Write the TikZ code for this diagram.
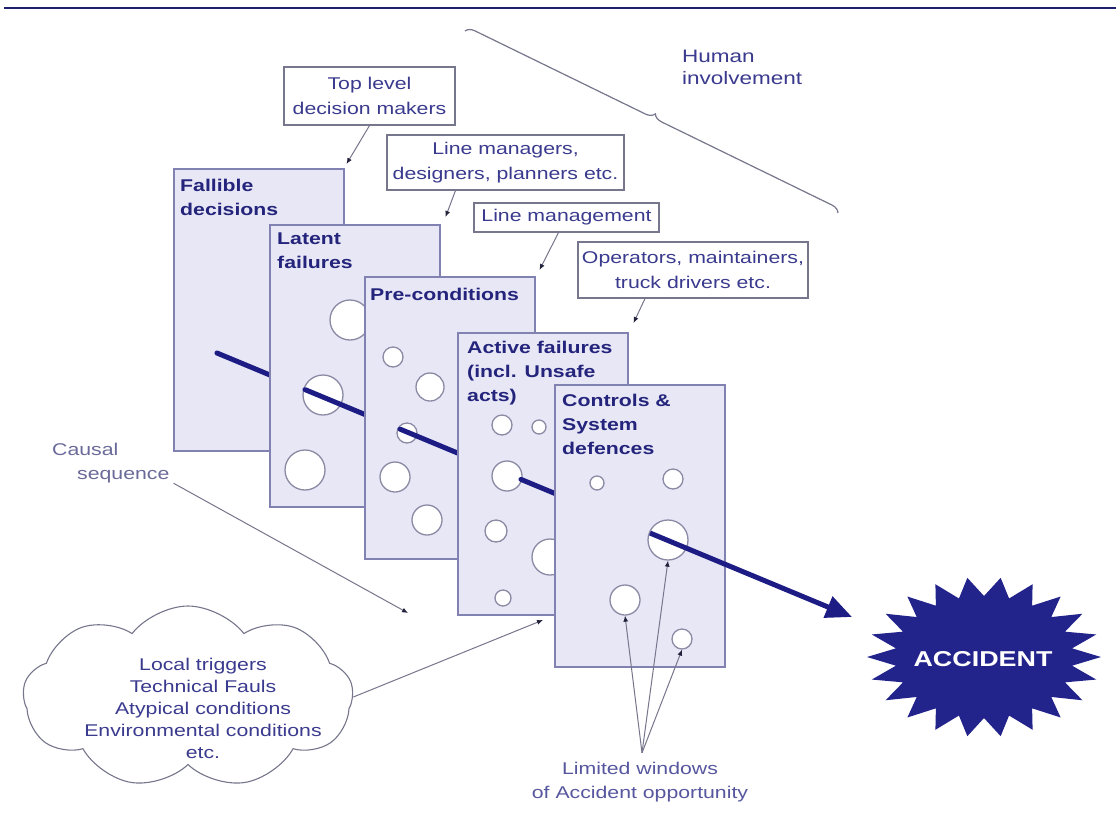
\documentclass[tikz,border=0pt]{standalone}
\usepackage{fontspec}
\setmainfont{Liberation Sans}[FakeStretch=1.25]
\usetikzlibrary{arrows.meta,shapes.symbols,decorations.pathreplacing,calc}

\definecolor{rulenavy}{HTML}{1F1F6E}
\definecolor{arrownavy}{HTML}{1C1C84}
\definecolor{titlenavy}{HTML}{24247C}
\definecolor{labelblue}{HTML}{3A3A8E}
\definecolor{softblue}{HTML}{6A6A9A}
\definecolor{panelfill}{HTML}{E7E7F6}
\definecolor{paneledge}{HTML}{8282B2}
\definecolor{holeedge}{HTML}{8A8AA4}
\definecolor{leadergrey}{HTML}{76768C}
\definecolor{tipdark}{HTML}{22223C}
\definecolor{burst}{HTML}{23238C}

\begin{document}
\begin{tikzpicture}[x=1pt,y=-1pt,
  panel/.style={draw=paneledge, fill=panelfill, line width=1.5pt, minimum width=170pt, minimum height=282pt, anchor=north west, inner sep=0pt},
  hole/.style={circle, draw=holeedge, fill=white, line width=1.3pt, inner sep=0pt, minimum size=#1},
  paneltitle/.style={anchor=north west, inner sep=0pt, align=left, text=titlenavy, font=\fontsize{17}{24}\selectfont\bfseries},
  calloutbox/.style={draw=leadergrey, fill=white, line width=1.1pt, inner sep=0pt, align=center, text=labelblue, font=\fontsize{17}{25}\selectfont},
  leader/.style={draw=leadergrey, line width=1pt, -{Latex[length=6pt,width=5pt,color=tipdark]}},
  causal/.style={arrownavy, line width=5pt, line cap=round},
]
\useasboundingbox (0,0) rectangle (1116,823);
\fill[white] (0,0) rectangle (1116,823);

% header rule
\draw[rulenavy, line width=2.5pt] (4,8) -- (1116,8);

% trajectory of the accident arrow
\coordinate (a0) at (217,353);
\coordinate (a1) at (852,617);

% slice 1
\node[panel] (p1) at (173,168) {};
\node[paneltitle] (t1) at (180,179) {Fallible\\decisions};
\draw[causal] (a0) -- ($(a0)!0.131!(a1)$);

% slice 2
\node[panel] (p2) at (269,224) {};
\node[paneltitle] (t2) at (277,233) {Latent\\failures};
\node[hole=40pt] (h21) at (350,320) {};
\node[hole=40pt] (h22) at (323,395) {};
\node[hole=40pt] (h23) at (305,470) {};
\draw[causal] ($(a0)!0.1386!(a1)$) -- ($(a0)!0.2567!(a1)$);

% slice 3
\node[panel] (p3) at (364,276) {};
\node[paneltitle] (t3) at (370,288) {Pre-conditions};
\node[hole=20pt] (h31) at (393,357) {};
\node[hole=28pt] (h32) at (430,387) {};
\node[hole=20pt] (h33) at (407,433) {};
\node[hole=30pt] (h34) at (395,477) {};
\node[hole=30pt] (h35) at (427,520) {};
\draw[causal] ($(a0)!0.2882!(a1)$) -- ($(a0)!0.398!(a1)$);

% slice 4
\node[panel] (p4) at (457,332) {};
\node[paneltitle] (t4) at (467,341) {Active failures\\(incl. Unsafe\\acts)};
\node[hole=20pt] (h41) at (502,425) {};
\node[hole=14pt] (h42) at (539,427) {};
\node[hole=30pt] (h43) at (507,476) {};
\node[hole=22pt] (h44) at (496,531) {};
\node[hole=36pt] (h45) at (550,557) {};
\node[hole=16pt] (h46) at (503,598) {};
\draw[causal] ($(a0)!0.4787!(a1)$) -- ($(a0)!0.556!(a1)$);

% slice 5
\node[panel] (p5) at (554,384) {};
\node[paneltitle] (t5) at (562,394) {Controls \&\\System\\defences};
\node[hole=14pt] (h51) at (597,483) {};
\node[hole=20pt] (h52) at (673,479) {};
\node[hole=40pt] (h53) at (668,540) {};
\node[hole=30pt] (h54) at (625,600) {};
\node[hole=20pt] (h55) at (682,639) {};
\draw[causal, line cap=butt, -{Triangle[length=26pt,width=22pt]}] ($(a0)!0.6819!(a1)$) -- (a1);

% people involved at each level
\node[calloutbox, minimum width=171pt, minimum height=58pt] (c1) at (369.5,96) {Top level\\decision makers};
\node[calloutbox, minimum width=237pt, minimum height=55pt] (c2) at (505.5,162.5) {Line managers,\\designers, planners etc.};
\node[calloutbox, minimum width=185pt, minimum height=29pt] (c3) at (566.5,217.5) {Line management};
\node[calloutbox, minimum width=230pt, minimum height=56pt] (c4) at (693,270) {Operators, maintainers,\\truck drivers etc.};
\draw[leader] (c1.south) -- ($(p1.north east)+(2,-4)$);
\draw[leader] ($(c2.south)+(-50,0)$) -- ($(p2.north east)+(5,-7)$);
\draw[leader] ($(c3.south)+(-8,0)$) -- ($(p3.north east)+(4,-6)$);
\draw[leader] ($(c4.south)+(-48,0)$) -- ($(p4.north east)+(5,-9)$);

% human involvement brace
\coordinate (bA) at (465,31);
\coordinate (bB) at (838,213);
\draw[leadergrey, line width=1.2pt, decorate, decoration={brace, amplitude=9pt}] (bA) -- (bB);
\node[anchor=north west, inner sep=0pt, align=left, text=labelblue, font=\fontsize{18}{22}\selectfont] (hi) at (682,50) {Human\\involvement};

% causal sequence
\node[anchor=north west, inner sep=0pt, align=left, text=softblue, font=\fontsize{17}{24}\selectfont] (cs) at (52,443) {Causal\\\hspace*{25pt}sequence};
\coordinate (csend) at (408,613);
\draw[leader] ($(cs.south east)+(4,0)$) -- (csend);

% local triggers
\node[cloud, cloud puffs=9, cloud puff arc=105, aspect=1.8, draw=leadergrey, line width=1.1pt, fill=white, minimum width=330pt, minimum height=182pt, inner sep=0pt] (cl) at (188,697) {};
\node[align=center, text=labelblue, font=\fontsize{17}{22}\selectfont, inner sep=0pt] (trig) at (203,708) {Local triggers\\Technical Fauls\\Atypical conditions\\Environmental conditions\\etc.};
\coordinate (clend) at (543,620);
\draw[leader] (cl.east) -- (clend);

% windows of opportunity
\node[align=center, text=labelblue!85, font=\fontsize{17}{24}\selectfont, inner sep=0pt] (lw) at (640,782) {Limited windows\\of Accident opportunity};
\coordinate (conv) at ($(lw.north)+(2,-9)$);
\draw[leader] (conv) -- (h54.south);
\draw[leader] (conv) -- (h53.south);
\draw[leader] (conv) -- (h55.south);

% accident burst
\fill[burst] plot[domain=0:43, samples=44, variable=\k]
  ({984+ifthenelse(mod(round(\k),2)==0,117,89)*cos(\k*360/44)},
   {657+ifthenelse(mod(round(\k),2)==0,80,61)*sin(\k*360/44)}) -- cycle;
\node[text=white, font=\fontsize{21.5}{24}\selectfont\bfseries, inner sep=0pt] (acc) at (983,659) {ACCIDENT};
\end{tikzpicture}
\end{document}
